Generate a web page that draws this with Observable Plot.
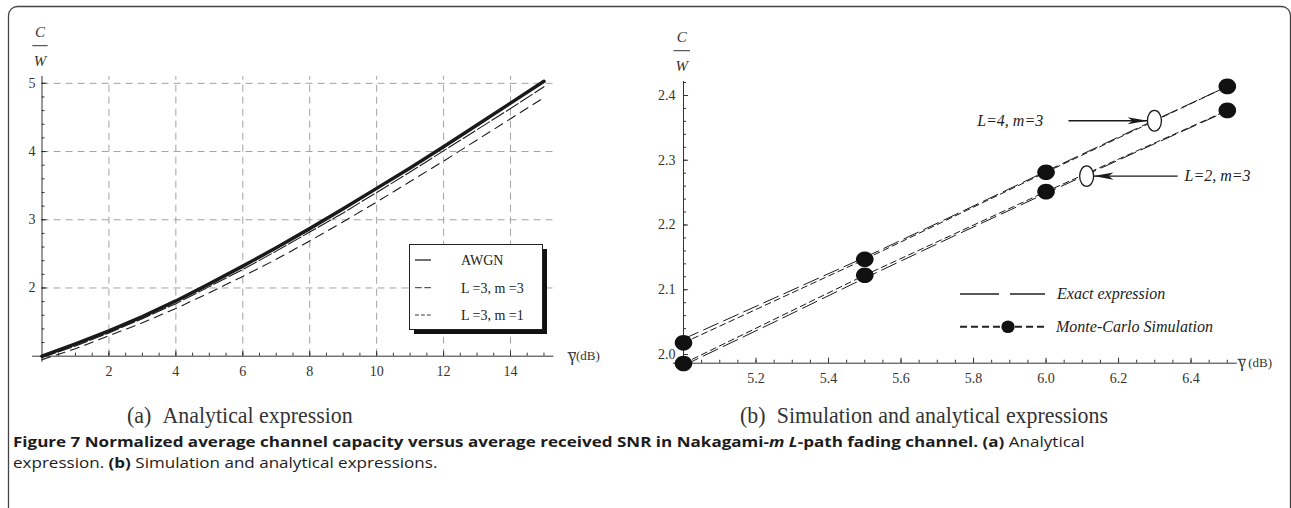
<!DOCTYPE html>
<html><head><meta charset="utf-8">
<script src="https://cdn.jsdelivr.net/npm/d3@7"></script>
<script src="https://cdn.jsdelivr.net/npm/@observablehq/plot@0.6"></script>
<style>
html,body{margin:0;padding:0;background:#fff;}
#page{position:relative;width:1291px;height:508px;overflow:hidden;background:#fff;}
#left,#right,#overlay{position:absolute;top:0;}
#left{left:0;} #right{left:640px;}
#overlay{left:0;pointer-events:none;}
</style></head>
<body><div id="page"><div id="left"></div><div id="right"></div>
<svg id="overlay" width="1291" height="508" xmlns="http://www.w3.org/2000/svg">
  <rect x="8.5" y="6.5" width="1282" height="530" rx="9" fill="none" stroke="#444" stroke-width="1.3"/>
  <!-- left legend -->
  <rect x="414" y="249" width="133" height="85" fill="#111"/>
  <rect x="409.5" y="244.5" width="133" height="85" fill="#fff" stroke="#222" stroke-width="1"/>
  <g stroke="#333" fill="none">
    <line x1="415" x2="431" y1="260" y2="260" stroke-width="1.4"/>
    <line x1="415" x2="431" y1="287.7" y2="287.7" stroke-width="1" stroke-dasharray="6.7,2.6"/>
    <line x1="415" x2="431" y1="315" y2="315" stroke-width="1" stroke-dasharray="3.8,2.2"/>
  </g>
  <g font-family="Liberation Serif, serif" font-size="14" fill="#222">
    <text x="461" y="265">AWGN</text>
    <text x="461" y="292.7">L =3, m =3</text>
    <text x="461" y="320">L =3, m =1</text>
  </g>
  <!-- C/W labels -->
  <g font-family="Liberation Serif, serif" font-style="italic" font-size="15" fill="#333" text-anchor="middle">
    <text x="40" y="37">C</text>
    <text x="40" y="65.5">W</text>
    <text x="681.7" y="42">C</text>
    <text x="681.7" y="71">W</text>
  </g>
  <line x1="32.3" x2="47.7" y1="45.7" y2="45.7" stroke="#333" stroke-width="1"/>
  <line x1="673.5" x2="690" y1="50.7" y2="50.7" stroke="#333" stroke-width="1"/>
  <!-- overlines of the gamma in the x labels -->
  <line x1="567.5" x2="576" y1="352.5" y2="352.5" stroke="#333" stroke-width="0.9"/>
  <line x1="1237.5" x2="1246" y1="359.3" y2="359.3" stroke="#333" stroke-width="0.9"/>
  <!-- right legend -->
  <line x1="960" x2="1045" y1="294" y2="294" stroke="#222" stroke-width="1.3" stroke-dasharray="39,11"/>
  <line x1="960" x2="1045" y1="326.7" y2="326.7" stroke="#222" stroke-width="2" stroke-dasharray="7,4"/>
  <ellipse cx="1008" cy="326.7" rx="6.7" ry="6.3" fill="#111"/>
  <g font-family="Liberation Serif, serif" font-style="italic" font-size="16" fill="#222">
    <text x="1057" y="299.3">Exact expression</text>
    <text x="1056" y="331.5">Monte-Carlo Simulation</text>
  </g>
  <!-- sub captions -->
  <g font-family="Liberation Serif, serif" font-size="23.5" fill="#333">
    <text id="capA" x="0" y="0">(a)<tspan dx="12">Analytical expression</tspan></text>
    <text id="capB" x="0" y="0">(b)<tspan dx="12">Simulation and analytical expressions</tspan></text>
  </g>
  <!-- figure caption -->
  <g font-family="Open Sans, Noto Sans, sans-serif" font-size="15" fill="#1c1c1c">
    <text id="cap1" x="0" y="0"><tspan font-weight="bold">Figure 7 Normalized average channel capacity versus average received SNR in Nakagami-<tspan font-style="italic">m</tspan> <tspan font-style="italic">L</tspan>-path fading channel. (a)</tspan> Analytical</text>
    <text id="cap2" x="0" y="0">expression. <tspan font-weight="bold">(b)</tspan> Simulation and analytical expressions.</text>
  </g>
</svg>
</div>
<script>
// ---------- Panel (a) data ----------
const snrDb = [0,1,2,3,4,5,6,7,8,9,10,11,12,13,14,15];
const awgn  = [1.00,1.18,1.37,1.58,1.81,2.06,2.32,2.59,2.87,3.16,3.46,3.76,4.07,4.39,4.71,5.03];
const l3m3  = [0.98,1.15,1.34,1.55,1.77,2.02,2.27,2.54,2.82,3.10,3.40,3.70,4.01,4.32,4.63,4.95];
const l3m1  = [0.95,1.11,1.30,1.49,1.70,1.93,2.17,2.42,2.69,2.97,3.26,3.56,3.86,4.17,4.48,4.79];
const leftXTicks = [2,4,6,8,10,12,14];
const leftYTicks = [2,3,4,5];

// ---------- Panel (b) data ----------
const simX   = [5.0,5.5,6.0,6.5];
const simL4  = [2.018,2.147,2.2815,2.414];
const simL2  = [1.986,2.1225,2.2515,2.377];
const exactX  = [5.0,5.25,5.5,5.75,6.0,6.25,6.5];
const exactL4 = [2.024,2.087,2.150,2.216,2.283,2.349,2.414];
const exactL2 = [1.983,2.050,2.118,2.184,2.249,2.313,2.376];
const rightXTicks = [5.2,5.4,5.6,5.8,6.0,6.2,6.4];
const rightYTicks = [2.0,2.1,2.2,2.3,2.4];
const annotLabel = ["L=4, m=3","L=2, m=3"];
const annotLabelX = [5.810,6.382];
const annotY = [2.361,2.2755];
const annotEllipseX = [6.299,6.112];
const annotFromX = [6.062,6.363];
const annotToX = [6.280,6.131];

// ---------- helpers ----------
const rows = (xs, ys) => xs.map((x,i)=>({x, y: ys[i]}));
function ellipseSymbol(rx, ry){
  const k = 0.5523;
  return {draw(c){
    c.moveTo(rx,0);
    c.bezierCurveTo(rx, ry*k, rx*k, ry, 0, ry);
    c.bezierCurveTo(-rx*k, ry, -rx, ry*k, -rx, 0);
    c.bezierCurveTo(-rx, -ry*k, -rx*k, -ry, 0, -ry);
    c.bezierCurveTo(rx*k, -ry, rx, -ry*k, rx, 0);
    c.closePath();
  }};
}
function wedge(dir){
  return {draw(c){
    c.moveTo(0,0);
    c.lineTo(-20*dir,-3.6);
    c.lineTo(-15*dir,0);
    c.lineTo(-20*dir,3.6);
    c.closePath();
  }};
}
const ink = "#1a1a1a", axisInk = "#333";
const baseStyle = {fontFamily:"Liberation Serif, serif", fontSize:"14px", color:"#333", background:"transparent", overflow:"visible"};

// ---------- Panel (a) ----------
const minorLX = d3.range(0.5, 15.01, 0.5);
const minorLY = d3.range(1.2, 5.01, 0.2);
const leftPlot = Plot.plot({
  width: 620, height: 400,
  marginLeft: 41.5, marginRight: 66.5, marginTop: 76, marginBottom: 44.3,
  x: {domain: [0, 15.3]}, y: {domain: [1, 5.1]},
  style: baseStyle,
  marks: [
    Plot.ruleX(leftXTicks, {x: d=>d, y1: 1, y2: 5.1, stroke: "#a3a3a3", strokeDasharray: "7,5"}),
    Plot.ruleY(leftYTicks, {y: d=>d, x1: 0, x2: 15.3, stroke: "#a3a3a3", strokeDasharray: "7,5"}),
    Plot.ruleX(minorLX, {x: d=>d, y1: 1, y2: 1.044, stroke: axisInk}),
    Plot.ruleX(leftXTicks, {x: d=>d, y1: 1, y2: 1.07, stroke: axisInk}),
    Plot.ruleY(minorLY, {y: d=>d, x1: 0, x2: 0.09, stroke: axisInk}),
    Plot.ruleY(leftYTicks, {y: d=>d, x1: 0, x2: 0.15, stroke: axisInk}),
    Plot.ruleY([1], {x1: -0.28, x2: 15.3, stroke: axisInk}),
    Plot.ruleX([0], {y1: 0.91, y2: 5.1, stroke: axisInk}),
    Plot.line(rows(snrDb, l3m1), {x: "x", y: "y", stroke: ink, strokeWidth: 1.1, strokeDasharray: "9,6"}),
    Plot.line(rows(snrDb, l3m3), {x: "x", y: "y", stroke: ink, strokeWidth: 1.1, strokeDasharray: "14,3"}),
    Plot.line(rows(snrDb, awgn), {x: "x", y: "y", stroke: ink, strokeWidth: 3.5}),
    Plot.axisX(leftXTicks, {tickSize: 0, tickPadding: 10, label: null, fontSize: 14, tickFormat: d3.format("d")}),
    Plot.axisY(leftYTicks, {tickSize: 0, tickPadding: 6.5, label: null, fontSize: 14, tickFormat: d3.format("d")}),
    Plot.text(["\u03B3"], {text: d=>d, frameAnchor: "bottom-right", dx: 14.5, dy: 4.3, textAnchor: "start", lineAnchor: "bottom", fontSize: 17, fill: "#333"}),
    Plot.text(["(dB)"], {text: d=>d, frameAnchor: "bottom-right", dx: 22, dy: 3.8, textAnchor: "start", lineAnchor: "bottom", fontSize: 13, fill: "#333"})
  ]
});
document.getElementById("left").append(leftPlot);

// ---------- Panel (b) ----------
const minorRX = d3.range(5.05, 6.501, 0.05);
const minorRY = d3.range(2.0, 2.4201, 0.02);
const annot = annotLabel.map((t,i)=>({t, lx: annotLabelX[i], y: annotY[i], ex: annotEllipseX[i], fx: annotFromX[i], tx: annotToX[i]}));
const rightPlot = Plot.plot({
  width: 651, height: 400,
  marginLeft: 43, marginRight: 54.3, marginTop: 81, marginBottom: 37.3,
  x: {domain: [5.0, 6.5273]}, y: {domain: [1.98656, 2.4216]},
  style: baseStyle,
  marks: [
    Plot.ruleX(minorRX, {x: d=>d, y1: 1.98656, y2: 1.98656+0.0046, stroke: axisInk}),
    Plot.ruleX(rightXTicks, {x: d=>d, y1: 1.98656, y2: 1.98656+0.0077, stroke: axisInk}),
    Plot.ruleY(minorRY, {y: d=>d, x1: 5.0, x2: 5.0083, stroke: axisInk}),
    Plot.ruleY(rightYTicks, {y: d=>d, x1: 5.0, x2: 5.014, stroke: axisInk}),
    Plot.ruleY([1.98656], {x1: 4.972, x2: 6.5273, stroke: axisInk}),
    Plot.ruleX([5.0], {y1: 1.980, y2: 2.4216, stroke: axisInk}),
    Plot.line(rows(exactX, exactL4), {x: "x", y: "y", stroke: ink, strokeWidth: 1, strokeDasharray: "16,6"}),
    Plot.line(rows(exactX, exactL2), {x: "x", y: "y", stroke: ink, strokeWidth: 1, strokeDasharray: "16,6"}),
    Plot.line(rows(simX, simL4), {x: "x", y: "y", stroke: ink, strokeWidth: 1, strokeDasharray: "6,4"}),
    Plot.line(rows(simX, simL2), {x: "x", y: "y", stroke: ink, strokeWidth: 1, strokeDasharray: "6,4"}),
    Plot.dot(rows(simX, simL4).concat(rows(simX, simL2)), {x: "x", y: "y", symbol: ellipseSymbol(8.8, 7.8), fill: "#111", stroke: "none"}),
    Plot.link(annot, {x1: "fx", x2: "tx", y1: "y", y2: "y", stroke: ink, strokeWidth: 1.3}),
    Plot.dot(annot.slice(0,1), {x: "tx", y: "y", symbol: wedge(1), fill: ink, stroke: "none"}),
    Plot.dot(annot.slice(1), {x: "tx", y: "y", symbol: wedge(-1), fill: ink, stroke: "none"}),
    Plot.dot(annot, {x: "ex", y: "y", symbol: ellipseSymbol(7, 10.3), fill: "#fff", stroke: ink, strokeWidth: 1.3}),
    Plot.text(annot, {x: "lx", y: "y", text: "t", textAnchor: "start", lineAnchor: "middle", fontSize: 16, fontStyle: "italic", fill: "#222"}),
    Plot.axisX(rightXTicks, {tickSize: 0, tickPadding: 9.5, label: null, fontSize: 14, tickFormat: d3.format(".1f")}),
    Plot.axisY(rightYTicks, {tickSize: 0, tickPadding: 8, label: null, fontSize: 14, tickFormat: d3.format(".1f")}),
    Plot.text(["\u03B3"], {text: d=>d, frameAnchor: "bottom-right", dx: 1, dy: 3.8, textAnchor: "start", lineAnchor: "bottom", fontSize: 17, fill: "#333"}),
    Plot.text(["(dB)"], {text: d=>d, frameAnchor: "bottom-right", dx: 11, dy: 3.3, textAnchor: "start", lineAnchor: "bottom", fontSize: 13, fill: "#333"})
  ]
});
document.getElementById("right").append(rightPlot);

// ---------- fit caption widths (uniform horizontal scaling) ----------
function fit(id, x, y, target, factor){
  const el = document.getElementById(id);
  const w = el.getComputedTextLength();
  const f = factor != null ? factor : target / w;
  el.setAttribute("transform", `translate(${x},${y}) scale(${f},1)`);
  return f;
}
const f1 = fit("cap1", 13, 447, 1085 - 13);
fit("cap2", 13, 468, null, f1);
const fb = fit("capB", 740, 423, 1097 - 740);
fit("capA", 127, 423, null, fb);
</script>
</body></html>
